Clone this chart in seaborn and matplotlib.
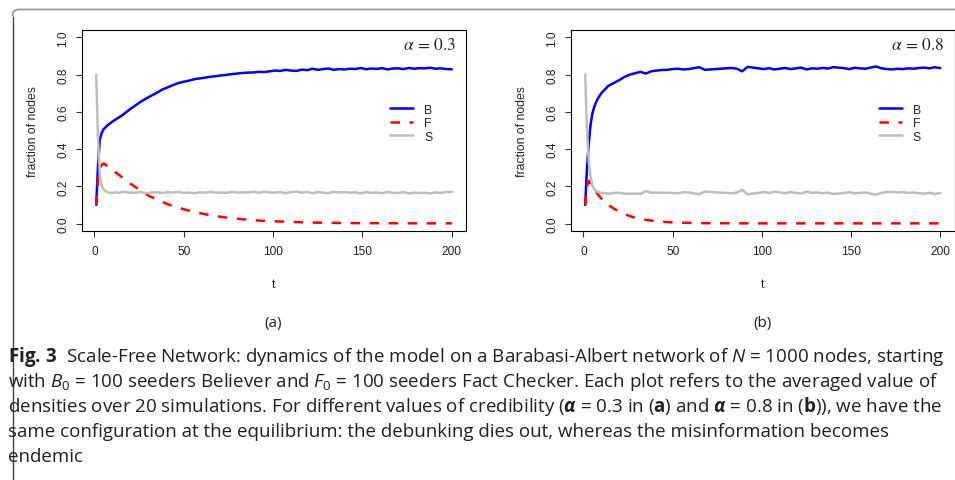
import matplotlib
matplotlib.use("Agg")
import matplotlib.pyplot as plt
import seaborn as sns
import pandas as pd
from matplotlib.path import Path
from matplotlib.patches import PathPatch

# ---------------- data ----------------
T = [1, 2, 3, 4, 5, 6, 7, 8, 9, 10, 12, 14, 16, 18, 20,
     23, 26, 29, 32, 35, 38, 41, 44, 47, 50, 53, 56, 59, 62, 65,
     68, 71, 74, 77, 80, 83, 86, 89, 92, 95, 98, 101, 104, 107, 110,
     113, 116, 119, 122, 125, 128, 131, 134, 137, 140, 143, 146, 149, 152, 155,
     158, 161, 164, 167, 170, 173, 176, 179, 182, 185, 188, 191, 194, 197, 200]

# alpha = 0.3
B_a = [0.10, 0.31, 0.45, 0.485, 0.505, 0.515, 0.525, 0.533, 0.540, 0.547, 0.560, 0.572, 0.585, 0.600, 0.615,
       0.635, 0.655, 0.672, 0.688, 0.703, 0.720, 0.732, 0.744, 0.755, 0.762, 0.768, 0.776, 0.780, 0.784, 0.789,
       0.792, 0.796, 0.799, 0.803, 0.806, 0.809, 0.811, 0.812, 0.815, 0.814, 0.818, 0.822, 0.820, 0.826, 0.822,
       0.820, 0.827, 0.824, 0.832, 0.826, 0.830, 0.833, 0.826, 0.830, 0.828, 0.832, 0.830, 0.836, 0.829, 0.833,
       0.831, 0.835, 0.828, 0.833, 0.834, 0.830, 0.836, 0.832, 0.835, 0.834, 0.837, 0.832, 0.834, 0.830, 0.829]
F_a = [0.10, 0.23, 0.29, 0.315, 0.322, 0.318, 0.310, 0.302, 0.295, 0.288, 0.274, 0.260, 0.245, 0.232, 0.215,
       0.196, 0.175, 0.157, 0.142, 0.128, 0.116, 0.104, 0.094, 0.085, 0.077, 0.069, 0.062, 0.056, 0.050, 0.045,
       0.040, 0.036, 0.032, 0.029, 0.026, 0.023, 0.021, 0.018, 0.016, 0.015, 0.013, 0.012, 0.011, 0.010, 0.009,
       0.008, 0.007, 0.006, 0.0055, 0.005, 0.0045, 0.004, 0.0035, 0.003, 0.003, 0.0025, 0.0025, 0.002, 0.002, 0.002,
       0.002, 0.0018, 0.0016, 0.0015, 0.0014, 0.0013, 0.0012, 0.0012, 0.0011, 0.0011, 0.001, 0.001, 0.001, 0.001, 0.001]
S_a = [0.80, 0.46, 0.26, 0.205, 0.185, 0.176, 0.170, 0.167, 0.165, 0.165, 0.168, 0.165, 0.170, 0.168, 0.166,
       0.165, 0.170, 0.163, 0.167, 0.168, 0.164, 0.169, 0.166, 0.170, 0.165, 0.167, 0.163, 0.168, 0.166, 0.170,
       0.166, 0.167, 0.165, 0.170, 0.166, 0.168, 0.167, 0.170, 0.166, 0.171, 0.167, 0.166, 0.169, 0.164, 0.169,
       0.172, 0.166, 0.170, 0.163, 0.169, 0.166, 0.163, 0.170, 0.167, 0.169, 0.166, 0.168, 0.162, 0.169, 0.165,
       0.167, 0.163, 0.170, 0.165, 0.164, 0.169, 0.162, 0.166, 0.164, 0.165, 0.162, 0.167, 0.165, 0.169, 0.170]

# alpha = 0.8
B_b = [0.10, 0.30, 0.43, 0.53, 0.59, 0.625, 0.650, 0.670, 0.685, 0.700, 0.720, 0.740, 0.750, 0.760, 0.770,
       0.788, 0.800, 0.808, 0.815, 0.806, 0.818, 0.822, 0.825, 0.826, 0.830, 0.832, 0.828, 0.830, 0.835, 0.840,
       0.826, 0.828, 0.830, 0.832, 0.834, 0.836, 0.832, 0.818, 0.842, 0.838, 0.834, 0.830, 0.835, 0.828, 0.832,
       0.836, 0.830, 0.834, 0.838, 0.828, 0.834, 0.832, 0.836, 0.833, 0.840, 0.838, 0.835, 0.830, 0.837, 0.834,
       0.832, 0.838, 0.844, 0.834, 0.830, 0.828, 0.832, 0.830, 0.834, 0.832, 0.836, 0.838, 0.834, 0.840, 0.835]
F_b = [0.10, 0.20, 0.23, 0.215, 0.200, 0.185, 0.171, 0.158, 0.146, 0.136, 0.117, 0.101, 0.087, 0.075, 0.064,
       0.051, 0.040, 0.031, 0.025, 0.020, 0.016, 0.012, 0.010, 0.008, 0.0065, 0.005, 0.004, 0.0035, 0.003, 0.0025,
       0.002, 0.002, 0.0018, 0.0016, 0.0015, 0.0014, 0.0013, 0.0012, 0.0012, 0.0011, 0.0011, 0.001, 0.001, 0.001, 0.001,
       0.001, 0.001, 0.001, 0.001, 0.001, 0.001, 0.001, 0.001, 0.001, 0.001, 0.001, 0.001, 0.001, 0.001, 0.001,
       0.001, 0.001, 0.001, 0.001, 0.001, 0.001, 0.001, 0.001, 0.001, 0.001, 0.001, 0.001, 0.001, 0.001, 0.001]
S_b = [0.80, 0.50, 0.33, 0.250, 0.205, 0.185, 0.175, 0.170, 0.167, 0.165, 0.163, 0.160, 0.163, 0.165, 0.166,
       0.161, 0.160, 0.161, 0.160, 0.174, 0.166, 0.166, 0.165, 0.166, 0.164, 0.163, 0.168, 0.167, 0.162, 0.158,
       0.172, 0.170, 0.168, 0.166, 0.165, 0.163, 0.167, 0.181, 0.157, 0.161, 0.165, 0.169, 0.164, 0.171, 0.167,
       0.163, 0.169, 0.165, 0.161, 0.171, 0.165, 0.167, 0.163, 0.166, 0.159, 0.161, 0.164, 0.169, 0.162, 0.165,
       0.167, 0.161, 0.155, 0.165, 0.169, 0.171, 0.167, 0.169, 0.165, 0.167, 0.163, 0.161, 0.165, 0.159, 0.164]

SERIES_NAMES = ["B", "F", "S"]
ALPHAS = ["0.3", "0.8"]
PANEL_TAGS = ["(a)", "(b)"]
X_TICKS = [0, 50, 100, 150, 200]
Y_TICKS = [0.0, 0.2, 0.4, 0.6, 0.8, 1.0]
Y_TICK_LABELS = ["0.0", "0.2", "0.4", "0.6", "0.8", "1.0"]
X_LABEL = "t"
Y_LABEL = "fraction of nodes"

CAPTION = [
    r"$\mathbf{Fig.\,3}$  Scale-Free Network: dynamics of the model on a Barabasi-Albert network of $N$ = 1000 nodes, starting",
    r"with $B_0$ = 100 seeders Believer and $F_0$ = 100 seeders Fact Checker. Each plot refers to the averaged value of",
    r"densities over 20 simulations. For different values of credibility ($\mathbfit{\alpha}$ = 0.3 in ($\mathbf{a}$) and $\mathbfit{\alpha}$ = 0.8 in ($\mathbf{b}$)), we have the",
    r"same configuration at the equilibrium: the debunking dies out, whereas the misinformation becomes",
    r"endemic",
]

# ---------------- style ----------------
sns.set_style("ticks")
plt.rcParams.update({
    "font.family": ["Liberation Sans", "DejaVu Sans"],
    "mathtext.rm": "Open Sans",
    "mathtext.it": "Open Sans:italic",
    "mathtext.bf": "Open Sans:bold",
    "mathtext.bfit": "Open Sans:italic:bold",
    "axes.edgecolor": "black",
    "axes.linewidth": 0.8,
    "xtick.color": "#333333",
    "ytick.color": "#333333",
    "xtick.labelcolor": "#222222",
    "ytick.labelcolor": "#222222",
})

W, H = 955, 481
fig = plt.figure(figsize=(W / 100, H / 100), dpi=100)

axes_boxes = [
    [82 / W, 1 - 232 / H, 384 / W, 201 / H],
    [571 / W, 1 - 232 / H, 383.5 / W, 201 / H],
]

data = [(B_a, F_a, S_a), (B_b, F_b, S_b)]
colors = ["#0000FF", "#FF0000", "#BEBEBE"]
styles = ["-", (0, (3.8, 3.8)), "-"]

for k in range(2):
    ax = fig.add_axes(axes_boxes[k])
    df = pd.DataFrame({"t": T, "B": data[k][0], "F": data[k][1], "S": data[k][2]})
    for name, col, ls in zip(SERIES_NAMES, colors, styles):
        sns.lineplot(data=df, x="t", y=name, ax=ax, color=col, linestyle=ls,
                     linewidth=1.8, label=name)
    ax.set_xlim(-6.96, 207.96)
    ax.set_ylim(-0.04, 1.04)
    ax.set_xticks(X_TICKS)
    ax.set_xticklabels([str(v) for v in X_TICKS], fontsize=8.6)
    ax.set_yticks(Y_TICKS)
    ax.set_yticklabels(Y_TICK_LABELS, fontsize=8.6, rotation=90, va="center")
    ax.tick_params(axis="both", length=4.5, width=0.8)
    ax.tick_params(axis="x", pad=5.5)
    ax.tick_params(axis="y", pad=4.5)
    for sp in ax.spines.values():
        sp.set_visible(True)
        sp.set_linewidth(0.8)
    ax.set_xlabel(X_LABEL, fontsize=8.8, va="center")
    ax.xaxis.set_label_coords(0.5, -(285 - 232) / 201)
    ax.set_ylabel(Y_LABEL, fontsize=8.8, va="center")
    ax.yaxis.set_label_coords(-(82 - 33) / 384, 0.5)
    ax.text(0.975, 0.93, r"$\alpha\,=\,%s$" % ALPHAS[k], transform=ax.transAxes,
            ha="right", va="center", fontsize=12.5, math_fontfamily="stix")
    ax.legend(loc="center left", bbox_to_anchor=(0.802, 0.537), frameon=False,
              fontsize=8.8, handlelength=1.9, handletextpad=0.9, labelspacing=0.12,
              borderpad=0, borderaxespad=0)
    cx = [273, 762][k]
    fig.text(cx / W, 1 - 324 / H, PANEL_TAGS[k], ha="center", va="center",
             fontsize=11, family="Open Sans", color="#222222")

# caption
line_y = [357, 382, 407, 432, 457]
for txt, yy in zip(CAPTION, line_y):
    fig.text(8 / W, 1 - yy / H, txt, ha="left", va="center", fontsize=13.5,
             family=["Open Sans", "DejaVu Sans"], math_fontfamily="custom", color="#231F20")

# frame (rounded corner box, partially visible)
fx = lambda x: x / W
fy = lambda y: 1 - y / H
top = Path([(fx(12.5), fy(17)), (fx(12.5), fy(10.5)), (fx(19), fy(10.5)), (fx(956), fy(10.5))],
           [Path.MOVETO, Path.CURVE3, Path.CURVE3, Path.LINETO])
left = Path([(fx(12.5), fy(482)), (fx(12.5), fy(17))], [Path.MOVETO, Path.LINETO])
fig.add_artist(PathPatch(top, transform=fig.transFigure, fill=False, edgecolor="#999999", lw=1.3))
fig.add_artist(PathPatch(left, transform=fig.transFigure, fill=False, edgecolor="#444444", lw=1.0))

fig.savefig("out.png", dpi=100)
